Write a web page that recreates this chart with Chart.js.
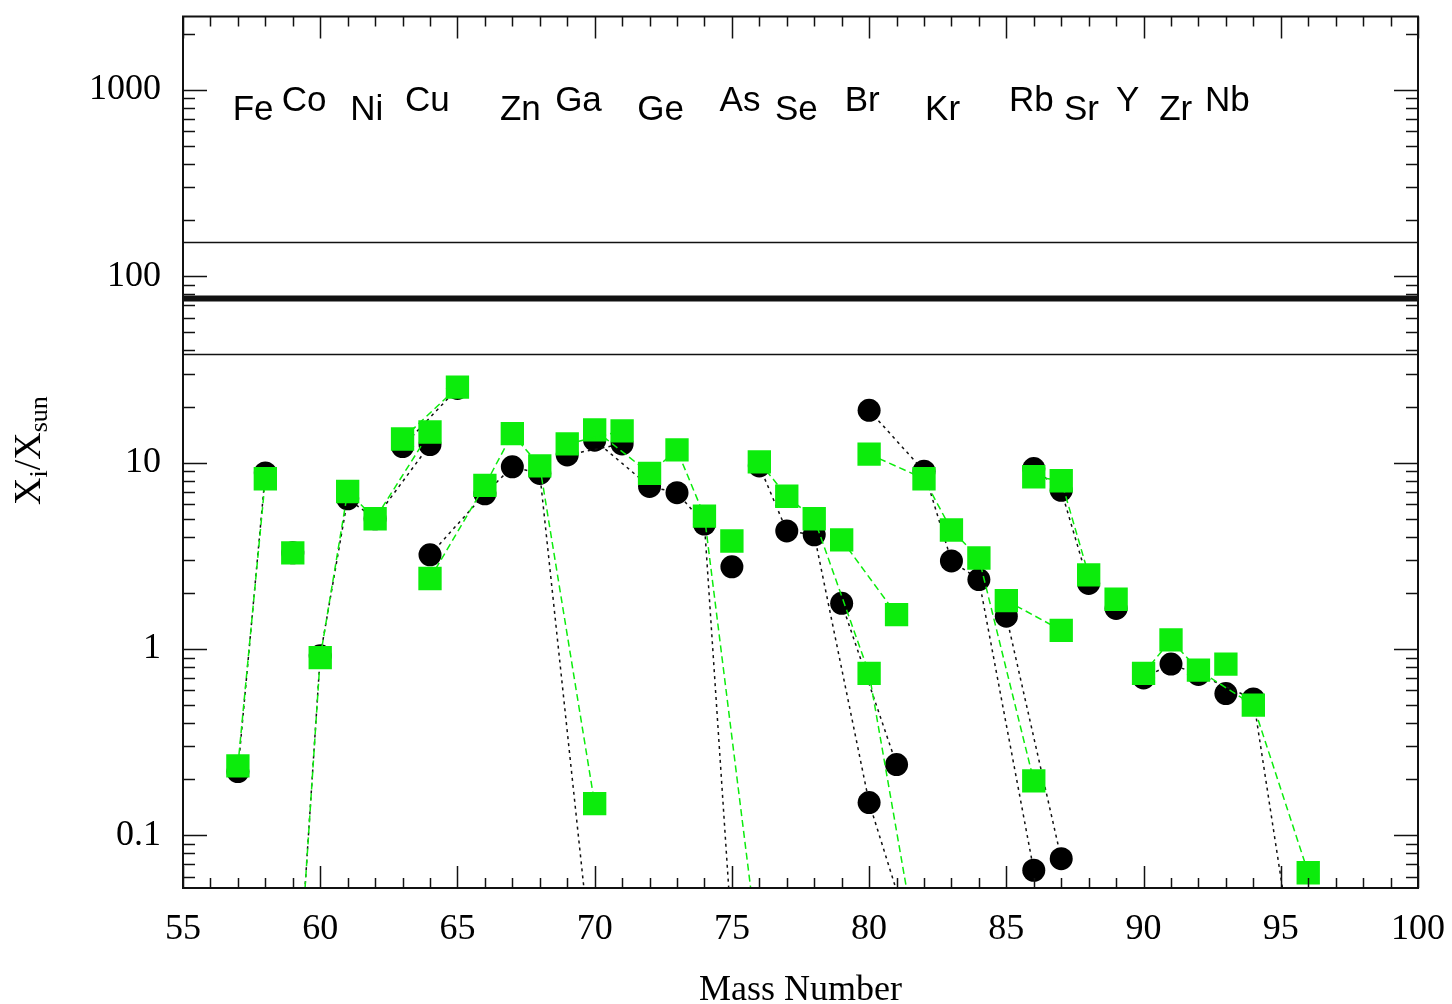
<!DOCTYPE html>
<html>
<head>
<meta charset="utf-8">
<script src="https://cdn.jsdelivr.net/npm/chart.js@4.4.1/dist/chart.umd.min.js"></script>
<style>
  html, body { margin: 0; padding: 0; background: #ffffff; }
  #wrap { width: 1452px; height: 1004px; }
</style>
</head>
<body>
<div id="wrap"><canvas id="c" width="1452" height="1004"></canvas></div>
<script>
// ---- Data ----
const elementNames = ['Fe','Co','Ni','Cu','Zn','Ga','Ge','As','Se','Br','Kr','Rb','Sr','Y','Zr','Nb'];
const elementMasses = [
  [57,58], [59], [58,60,61,62,64], [63,65], [64,66,67,68,70], [69,71],
  [70,72,73,74,76], [75], [76,77,78,80,82], [79,81], [80,82,83,84,86],
  [85,87], [86,87,88], [89], [90,91,92,94,96], [93]
];
// black circles
const modelA = [
  [0.22, 8.8], [3.28], [3e-5, 0.92, 6.4, 5.0, 12.5], [12.2, 25], [3.2, 6.8, 9.5, 8.75, 0.015], [11.0, 12.6],
  [13.2, 7.45, 6.9, 4.68, 1.8e-4], [2.76], [9.6, 4.3, 4.1, 0.15, 0.017], [1.76, 0.24], [19.1, 9.0, 2.97, 2.36, 0.065],
  [1.5, 0.075], [9.3, 7.1, 2.25], [1.65], [0.70, 0.83, 0.73, 0.54, 0.0066], [0.577]
];
// green squares
const modelB = [
  [0.236, 8.2], [3.28], [3e-5, 0.9, 7.0, 5.0, 14.6], [13.4, 25.4], [2.39, 7.55, 14.3, 9.6, 0.148], [12.6, 14.8],
  [15.0, 8.76, 11.7, 5.16, 0.022], [3.8], [10.1, 6.6, 5.0, 0.74, 0.015], [3.85, 1.53], [11.1, 8.2, 4.35, 3.08, 0.196],
  [1.82, 1.26], [8.4, 8.0, 2.5], [1.85], [0.74, 1.12, 0.77, 0.50, 0.063], [0.83]
];
// mass-number where each element symbol starts
const labelMass = [56.81, 58.60, 61.09, 63.09, 66.55, 68.56, 71.55, 74.55, 76.57, 79.11, 82.04, 85.10, 87.10, 89.00, 90.57, 92.24];
const refLevels = [38, 76, 152];
const refWidths = [1.5, 6, 1.5];
const yTickValues = [0.1, 1, 10, 100, 1000];
const xRange = [55, 100];
const yRange = [0.0522, 2477];

// ---- Build datasets ----
const GREEN = 'rgb(12,236,12)';
const datasets = [];
elementNames.forEach((el, i) => {
  datasets.push({
    label: el + ' B',
    data: elementMasses[i].map((m, j) => ({x: m, y: modelB[i][j]})),
    borderColor: GREEN, backgroundColor: GREEN,
    borderWidth: 1.5, borderDash: [7, 4],
    pointStyle: 'rect', pointRadius: 16.5, pointBorderWidth: 0,
    showLine: true, order: 1
  });
  datasets.push({
    label: el + ' A',
    data: elementMasses[i].map((m, j) => ({x: m, y: modelA[i][j]})),
    borderColor: '#111', backgroundColor: '#000',
    borderWidth: 1.5, borderDash: [3, 4],
    pointStyle: 'circle', pointRadius: 11.5, pointBorderWidth: 0,
    showLine: true, order: 2
  });
});
refLevels.forEach((v, i) => {
  datasets.push({
    label: 'ref' + v,
    data: [{x: xRange[0], y: v}, {x: xRange[1], y: v}],
    borderColor: '#111', borderWidth: refWidths[i],
    pointRadius: 0, showLine: true, order: 3
  });
});

const decor = {
  id: 'decor',
  afterDraw(chart) {
    const ctx = chart.ctx, a = chart.chartArea;
    const xs = chart.scales.x, ys = chart.scales.y;
    ctx.save();
    ctx.strokeStyle = '#111';
    ctx.lineWidth = 2;
    ctx.strokeRect(a.left, a.top, a.right - a.left, a.bottom - a.top);
    ctx.lineWidth = 1.5;
    ctx.beginPath();
    // y ticks (log), inward on both sides
    for (let d = -2; d <= 3; d++) {
      for (let m = 1; m <= 9; m++) {
        const v = m * Math.pow(10, d);
        if (v < yRange[0] || v > yRange[1]) continue;
        const py = Math.round(ys.getPixelForValue(v)) + 0.5;
        const len = m === 1 ? 24 : 12;
        ctx.moveTo(a.left, py); ctx.lineTo(a.left + len, py);
        ctx.moveTo(a.right, py); ctx.lineTo(a.right - len, py);
      }
    }
    // x ticks, inward top and bottom
    for (let m = xRange[0]; m <= xRange[1]; m++) {
      const px = Math.round(xs.getPixelForValue(m)) + 0.5;
      const len = m % 5 === 0 ? 22 : 10;
      ctx.moveTo(px, a.bottom); ctx.lineTo(px, a.bottom - len);
      ctx.moveTo(px, a.top); ctx.lineTo(px, a.top + len);
    }
    ctx.stroke();

    // element symbols
    ctx.fillStyle = '#000';
    ctx.font = '35px "Liberation Sans", Arial, sans-serif';
    ctx.textAlign = 'left';
    ctx.textBaseline = 'alphabetic';
    const base = ys.getPixelForValue(1000);
    elementNames.forEach((el, i) => {
      ctx.fillText(el, xs.getPixelForValue(labelMass[i]), base + (i % 2 === 0 ? 30 : 21));
    });

    // y-axis title with subscripts
    ctx.save();
    ctx.translate(40, 505);
    ctx.rotate(-Math.PI / 2);
    let x = 0;
    const big = '38px "Liberation Serif", "Times New Roman", serif';
    const small = '26px "Liberation Serif", "Times New Roman", serif';
    const parts = [['X', big, 0], ['i', small, 7], ['/X', big, 0], ['sun', small, 7]];
    parts.forEach(p => {
      ctx.font = p[1];
      ctx.fillText(p[0], x, p[2]);
      x += ctx.measureText(p[0]).width;
    });
    ctx.restore();
    ctx.restore();
  }
};

new Chart(document.getElementById('c'), {
  type: 'scatter',
  data: { datasets },
  options: {
    responsive: false,
    animation: false,
    devicePixelRatio: 1,
    layout: { padding: { top: 10, right: 34, left: 0, bottom: 0 } },
    plugins: { legend: { display: false }, tooltip: { enabled: false } },
    scales: {
      x: {
        type: 'linear', min: xRange[0], max: xRange[1],
        grid: { display: false, drawTicks: false },
        border: { display: false },
        ticks: {
          stepSize: 5, padding: 20, color: '#000',
          font: { family: '"Liberation Serif", "Times New Roman", serif', size: 36 }
        },
        title: {
          display: true, text: 'Mass Number', color: '#000',
          font: { family: '"Liberation Serif", "Times New Roman", serif', size: 36 },
          padding: { top: 8, bottom: -8 }
        },
        afterFit(s) { s.height = 116; s.paddingLeft = 0; s.paddingRight = 0; }
      },
      y: {
        type: 'logarithmic', min: yRange[0], max: yRange[1],
        grid: { display: false, drawTicks: false },
        border: { display: false },
        afterBuildTicks(s) { s.ticks = yTickValues.map(v => ({value: v, major: true})); },
        ticks: {
          padding: 22, color: '#000',
          font: { family: '"Liberation Serif", "Times New Roman", serif', size: 36 },
          callback: (v) => String(v)
        },
        afterFit(s) { s.width = 183; s.paddingTop = 0; s.paddingBottom = 0; }
      }
    }
  },
  plugins: [decor]
});
</script>
</body>
</html>
